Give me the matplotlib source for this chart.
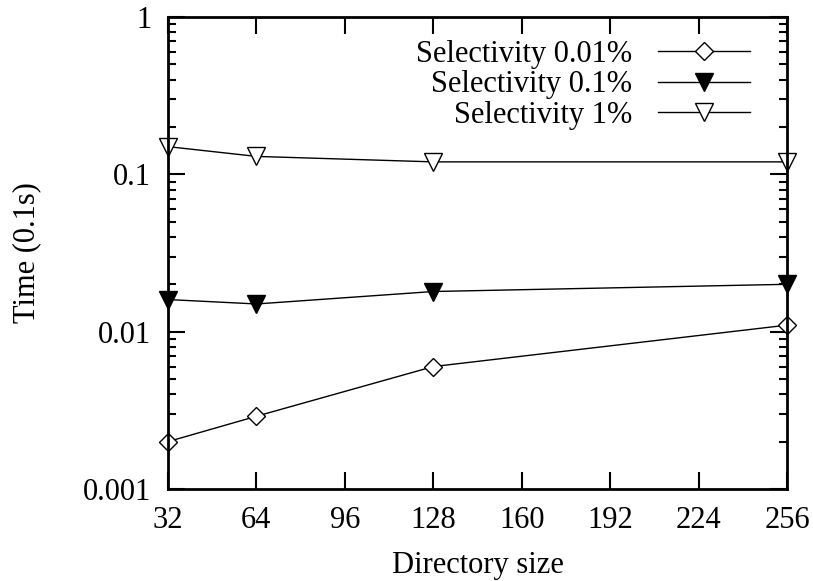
import matplotlib
matplotlib.use("Agg")
import matplotlib.pyplot as plt
from matplotlib.ticker import FixedLocator, LogLocator, NullFormatter

plt.rcParams['font.family'] = ['Liberation Serif', 'DejaVu Serif']
plt.rcParams['font.size'] = 22

# directory sizes and query times (units of 0.1s)
dir_size = [32, 64, 128, 256]
sel_001 = [0.002, 0.0029, 0.006, 0.011]
sel_01 = [0.016, 0.015, 0.018, 0.020]
sel_1 = [0.15, 0.13, 0.12, 0.12]

x_ticks = [32, 64, 96, 128, 160, 192, 224, 256]
y_ticks = [0.001, 0.01, 0.1, 1]
y_tick_labels = ['0.001', '0.01', '0.1', '1']

fig = plt.figure(figsize=(8.13, 5.81), dpi=100)
ax = fig.add_axes([168 / 813, 1 - 489 / 581, (787 - 168) / 813, (489 - 17) / 581])

ax.plot(dir_size, sel_001, color='black', lw=1, marker='D', ms=9,
        mfc='white', mec='black', mew=1, label='Selectivity 0.01%', clip_on=False)
ax.plot(dir_size, sel_01, color='black', lw=1, marker='v', ms=13,
        mfc='black', mec='black', label='Selectivity 0.1%', clip_on=False)
ax.plot(dir_size, sel_1, color='black', lw=1, marker='v', ms=13,
        mfc='white', mec='black', mew=1, label='Selectivity 1%', clip_on=False)

ax.set_yscale('log')
ax.set_xlim(32, 256)
ax.set_ylim(0.001, 1)
ax.xaxis.set_major_locator(FixedLocator(x_ticks))
ax.set_yticks(y_ticks)
ax.set_yticklabels(y_tick_labels)
ax.yaxis.set_minor_locator(LogLocator(base=10, subs=range(2, 10)))
ax.yaxis.set_minor_formatter(NullFormatter())

ax.tick_params(which='major', direction='in', length=12, width=1.5,
               top=True, right=True, pad=12)
ax.tick_params(which='minor', direction='in', length=6, width=1.5,
               top=True, right=True)
for s in ax.spines.values():
    s.set_linewidth(2)

ax.set_xlabel('Directory size', labelpad=12)
ax.set_ylabel('Time (0.1s)', labelpad=30)

ax.legend(loc='upper right', frameon=False, markerfirst=False,
          handlelength=3.0, handletextpad=0.85, borderaxespad=0.3,
          labelspacing=0.05, bbox_to_anchor=(0.975, 0.997))

fig.savefig('out.png', dpi=100)
